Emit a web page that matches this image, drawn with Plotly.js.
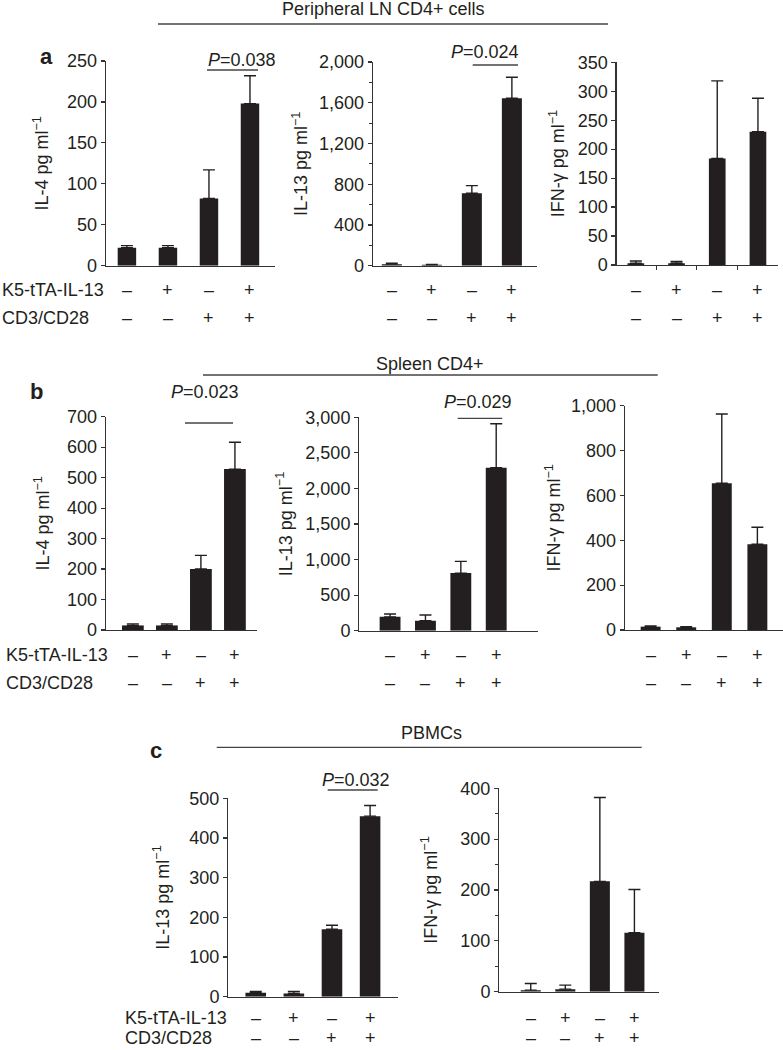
<!DOCTYPE html>
<html><head><meta charset="utf-8">
<script src="https://cdn.plot.ly/plotly-3.0.1.min.js"></script>
<style>html,body{margin:0;padding:0;background:#fff}#chart{width:783px;height:1050px}</style>
</head><body><div id="chart"></div>
<script>
// ---------- data ----------
const groups = ['K5−/CD3−', 'K5+/CD3−', 'K5−/CD3+', 'K5+/CD3+'];
const k5Signs = ['–', '+', '–', '+'];
const cd3Signs = ['–', '–', '+', '+'];
const rowLabels = ['K5-tTA-IL-13', 'CD3/CD28'];
const sectionTitles = ['Peripheral LN CD4+ cells', 'Spleen CD4+', 'PBMCs'];
const panelLetters = ['a', 'b', 'c'];

const lnIL4 = [22, 22, 82, 198];
const lnIL4Err = [2.5, 2.5, 35, 34];
const lnIL13 = [15, 10, 711, 1644];
const lnIL13Err = [10, 2, 75, 206];
const lnIFNg = [3, 3, 184, 230];
const lnIFNgErr = [4, 3, 134, 58];

const spIL4 = [15, 15, 200, 528];
const spIL4Err = [5, 5, 45, 88];
const spIL13 = [195, 140, 810, 2290];
const spIL13Err = [40, 80, 165, 620];
const spIFNg = [15, 12, 654, 382];
const spIFNgErr = [3, 3, 309, 76];

const pbIL13 = [10, 8, 170, 455];
const pbIL13Err = [3, 5, 10, 27];
const pbIFNg = [3, 5, 217, 116];
const pbIFNgErr = [13, 8, 165, 85];

const pValues = ['0.038', '0.024', '0.023', '0.029', '0.032'];

// ---------- layout helpers ----------
const W = 783, H = 1050;
const FONT = 'Liberation Sans, Arial, Helvetica, sans-serif';
const INK = '#231f20';
const px = x => x / W;
const py = y => 1 - y / H;

const titleIL4 = 'IL-4 pg ml<sup>−1</sup>';
const titleIL13 = 'IL-13 pg ml<sup>−1</sup>';
const titleIFN = 'IFN-γ pg ml<sup>−1</sup>';

const panels = [
  {y: lnIL4, e: lnIL4Err, t: titleIL4, xd: [106, 275], yd: [61, 265.7], xr: [-0.51, 3.61], yr: [0, 250], dt: 50, bw: 0.45, so: 13, rows: [290, 318]},
  {y: lnIL13, e: lnIL13Err, t: titleIL13, xd: [373, 536.7], yd: [62, 265.7], xr: [-0.47, 3.62], yr: [0, 2000], dt: 400, minor: 200, bw: 0.5, so: 6, rows: [290, 318]},
  {y: lnIFNg, e: lnIFNgErr, t: titleIFN, xd: [616.7, 778.3], yd: [62.3, 265], xr: [-0.47, 3.5], yr: [0, 350], dt: 50, bw: 0.41, so: 8, rows: [290, 318], xticks: true},
  {y: spIL4, e: spIL4Err, t: titleIL4, xd: [106, 256.7], yd: [416.7, 630], xr: [-0.79, 3.64], yr: [0, 700], dt: 100, bw: 0.64, so: 12, rows: [655, 683]},
  {y: spIL13, e: spIL13Err, t: titleIL13, xd: [359.3, 538.3], yd: [417.3, 630.7], xr: [-0.87, 4.19], yr: [0, 3000], dt: 500, bw: 0.59, so: 8, rows: [655, 683]},
  {y: spIFNg, e: spIFNgErr, t: titleIFN, xd: [625, 783], yd: [405.7, 630], xr: [-0.72, 3.72], yr: [0, 1000], dt: 200, bw: 0.56, so: 5, rows: [655, 683]},
  {y: pbIL13, e: pbIL13Err, t: titleIL13, xd: [228.3, 398.3], yd: [798.3, 996.7], xr: [-0.72, 3.74], yr: [0, 500], dt: 100, bw: 0.54, so: 15, rows: [1018, 1038]},
  {y: pbIFNg, e: pbIFNgErr, t: titleIFN, xd: [499.3, 659.3], yd: [788.3, 991.7], xr: [-0.91, 3.72], yr: [0, 400], dt: 100, minor: 50, bw: 0.58, so: 18, rows: [1018, 1038]}
];

const data = [];
const layout = {
  width: W, height: H,
  margin: {l: 0, r: 0, t: 0, b: 0},
  paper_bgcolor: '#fff', plot_bgcolor: 'rgba(0,0,0,0)',
  showlegend: false,
  font: {family: FONT, size: 18, color: INK},
  separators: '.,',
  annotations: [], shapes: []
};

panels.forEach((p, i) => {
  const n = i + 1;
  const xa = 'x' + (n === 1 ? '' : n), ya = 'y' + (n === 1 ? '' : n);
  data.push({
    type: 'bar', x: groups, y: p.y, xaxis: xa, yaxis: ya,
    width: p.bw,
    marker: {color: INK, line: {width: 0}},
    error_y: {type: 'data', array: p.e, arrayminus: p.e.map(() => 0), symmetric: false,
              color: INK, thickness: 1.4, width: 6},
    hoverinfo: 'skip'
  });
  const xk = 'xaxis' + (n === 1 ? '' : n), yk = 'yaxis' + (n === 1 ? '' : n);
  layout[xk] = {
    domain: [px(p.xd[0]), px(p.xd[1])], anchor: ya, type: 'category',
    range: p.xr, showgrid: false, zeroline: false, showticklabels: false,
    showline: true, linecolor: '#333', linewidth: 1.3,
    ticks: p.xticks ? 'outside' : '', tickson: 'boundaries', ticklen: 4, tickcolor: '#333', tickwidth: 1.2,
    fixedrange: true
  };
  const yax = {
    domain: [py(p.yd[1]), py(p.yd[0])], anchor: xa,
    range: p.yr, dtick: p.dt, tick0: 0, tickformat: ',d',
    showgrid: false, zeroline: false,
    showline: true, linecolor: '#333', linewidth: 1.3,
    ticks: 'outside', ticklen: 4, tickcolor: '#333', tickwidth: 1.2,
    tickfont: {family: FONT, size: 18, color: INK},
    title: {text: p.t, font: {family: FONT, size: 18, color: INK}, standoff: p.so},
    fixedrange: true
  };
  if (p.minor) yax.minor = {dtick: p.minor, ticks: 'outside', ticklen: 3, tickcolor: '#333', tickwidth: 1};
  layout[yk] = yax;
  // sign rows
  [k5Signs, cd3Signs].forEach((signs, r) => {
    signs.forEach((s, j) => {
      layout.annotations.push({
        xref: xa, yref: 'paper', x: j, y: py(p.rows[r]), text: s, showarrow: false,
        xanchor: 'center', yanchor: 'middle', font: {family: FONT, size: 18, color: INK}
      });
    });
  });
});

// row labels (left of first panel in each section)
[[0, [290, 318]], [4, [655, 683]], [123, [1018, 1038]]].forEach(([lx, rows]) => {
  rowLabels.forEach((lab, r) => {
    layout.annotations.push({xref: 'paper', yref: 'paper', x: px(lx), y: py(rows[r]), text: lab,
      showarrow: false, xanchor: 'left', yanchor: 'middle', font: {family: FONT, size: 18, color: INK}});
  });
});

// section headers
const sections = [
  {cx: 383, ty: 9, ly: 24, x0: 158, x1: 608, letter: [46, 57]},
  {cx: 430, ty: 364, ly: 375, x0: 203, x1: 657.7, letter: [36, 391]},
  {cx: 431.7, ty: 733, ly: 747.3, x0: 216.7, x1: 641.7, letter: [156, 750]}
];
sections.forEach((s, i) => {
  layout.annotations.push({xref: 'paper', yref: 'paper', x: px(s.cx), y: py(s.ty), text: sectionTitles[i],
    showarrow: false, xanchor: 'center', yanchor: 'middle', font: {family: FONT, size: 18, color: INK}});
  layout.shapes.push({type: 'line', xref: 'paper', yref: 'paper', x0: px(s.x0), x1: px(s.x1),
    y0: py(s.ly), y1: py(s.ly), line: {color: '#444', width: 1.3}});
  layout.annotations.push({xref: 'paper', yref: 'paper', x: px(s.letter[0]), y: py(s.letter[1]),
    text: '<b>' + panelLetters[i] + '</b>', showarrow: false, xanchor: 'center', yanchor: 'middle',
    font: {family: FONT, size: 22, color: INK}});
});

// significance brackets
const brackets = [
  {tx: 241.7, ty: 60, x0: 207, x1: 258, ly: 70},
  {tx: 485, ty: 52, x0: 472.7, x1: 518, ly: 65},
  {tx: 205, ty: 391.7, x0: 185, x1: 233, ly: 423},
  {tx: 478, ty: 402, x0: 457.7, x1: 502.3, ly: 418.3},
  {tx: 356, ty: 780, x0: 327.7, x1: 377.7, ly: 790}
];
brackets.forEach((b, i) => {
  layout.annotations.push({xref: 'paper', yref: 'paper', x: px(b.tx), y: py(b.ty),
    text: '<i>P</i>=' + pValues[i], showarrow: false, xanchor: 'center', yanchor: 'middle',
    font: {family: FONT, size: 18, color: INK}});
  layout.shapes.push({type: 'line', xref: 'paper', yref: 'paper', x0: px(b.x0), x1: px(b.x1),
    y0: py(b.ly), y1: py(b.ly), line: {color: '#444', width: 1.3}});
});

Plotly.newPlot('chart', data, layout, {displayModeBar: false, staticPlot: true});
</script>
</body></html>
